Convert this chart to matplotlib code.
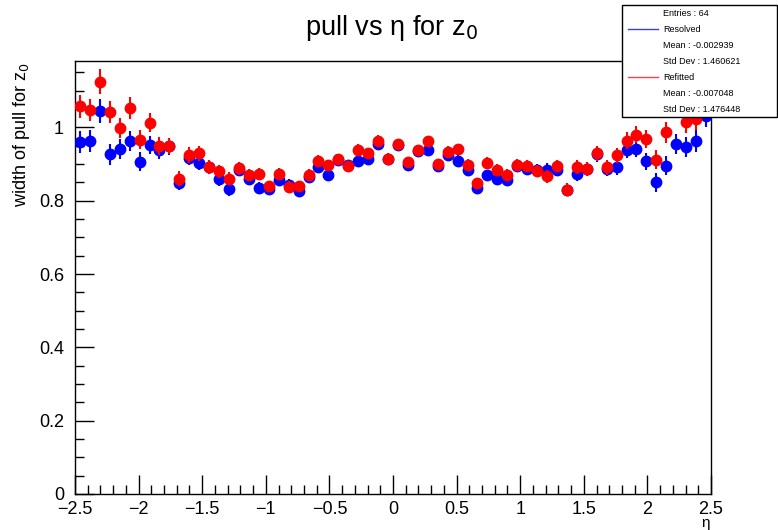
import numpy as np
import matplotlib.pyplot as plt
from matplotlib import font_manager
from matplotlib.lines import Line2D
from matplotlib.patches import Rectangle
from matplotlib.ticker import MultipleLocator, FuncFormatter

plt.rcParams['font.family'] = ['Liberation Sans', 'DejaVu Sans']
installed = {f.name for f in font_manager.fontManager.ttflist}
narrow = 'Liberation Sans Narrow' if 'Liberation Sans Narrow' in installed else 'Liberation Sans'

# 64 eta bins between -2.5 and 2.5
eta_lo, eta_hi, nbins = -2.5, 2.5, 64

resolved = [0.959, 0.964, 1.044, 0.926, 0.942, 0.962, 0.906, 0.951, 0.937, 0.948,
            0.849, 0.917, 0.903, 0.892, 0.859, 0.832, 0.885, 0.860, 0.835, 0.833,
            0.857, 0.844, 0.826, 0.864, 0.892, 0.871, 0.910, 0.897, 0.907, 0.914,
            0.954, 0.914, 0.952, 0.897, 0.935, 0.937, 0.894, 0.924, 0.909, 0.883,
            0.835, 0.869, 0.859, 0.857, 0.894, 0.887, 0.885, 0.885, 0.883, 0.830,
            0.873, 0.886, 0.926, 0.886, 0.891, 0.939, 0.941, 0.907, 0.850, 0.895,
            0.955, 0.946, 0.962, 1.030]
refitted = [1.057, 1.047, 1.125, 1.042, 0.998, 1.053, 0.966, 1.012, 0.949, 0.949,
            0.860, 0.925, 0.929, 0.891, 0.880, 0.860, 0.888, 0.870, 0.873, 0.839,
            0.873, 0.838, 0.839, 0.871, 0.909, 0.896, 0.913, 0.894, 0.939, 0.930,
            0.964, 0.914, 0.954, 0.905, 0.937, 0.962, 0.900, 0.933, 0.940, 0.898,
            0.848, 0.903, 0.885, 0.871, 0.897, 0.894, 0.880, 0.866, 0.894, 0.830,
            0.892, 0.886, 0.929, 0.891, 0.924, 0.964, 0.980, 0.968, 0.912, 0.986,
            1.060, 1.015, 1.023, 1.080]
resolved_err = [0.030, 0.030, 0.032, 0.028, 0.027, 0.027, 0.026, 0.025, 0.024, 0.023,
                0.021, 0.021, 0.020, 0.019, 0.018, 0.018, 0.017, 0.017, 0.016, 0.016,
                0.016, 0.016, 0.015, 0.015, 0.015, 0.015, 0.015, 0.015, 0.015, 0.015,
                0.015, 0.015, 0.015, 0.015, 0.015, 0.015, 0.015, 0.015, 0.015, 0.015,
                0.015, 0.015, 0.016, 0.016, 0.016, 0.016, 0.016, 0.017, 0.017, 0.018,
                0.018, 0.019, 0.020, 0.020, 0.021, 0.022, 0.023, 0.024, 0.025, 0.026,
                0.027, 0.028, 0.030, 0.030]
refitted_err = [0.031, 0.031, 0.035, 0.030, 0.028, 0.029, 0.026, 0.026, 0.024, 0.023,
                0.021, 0.021, 0.020, 0.019, 0.018, 0.018, 0.017, 0.017, 0.016, 0.016,
                0.016, 0.016, 0.015, 0.015, 0.015, 0.015, 0.015, 0.015, 0.015, 0.015,
                0.015, 0.015, 0.015, 0.015, 0.015, 0.015, 0.015, 0.015, 0.015, 0.015,
                0.015, 0.015, 0.016, 0.016, 0.016, 0.016, 0.016, 0.017, 0.017, 0.018,
                0.018, 0.019, 0.020, 0.020, 0.021, 0.022, 0.024, 0.025, 0.026, 0.028,
                0.029, 0.030, 0.031, 0.031]

stats = ['Entries : 64',
         'Resolved', 'Mean : -0.002939', 'Std Dev : 1.460621',
         'Refitted', 'Mean : -0.007048', 'Std Dev : 1.476448']

edges = np.linspace(eta_lo, eta_hi, nbins + 1)
centers = 0.5 * (edges[:-1] + edges[1:])

W, H = 778, 530
fig = plt.figure(figsize=(W / 100, H / 100), dpi=100)
ax = fig.add_axes([75 / W, 36 / H, 636 / W, 433 / H])

ax.errorbar(centers, resolved, yerr=resolved_err, fmt='o', color='#0000ff',
            ms=7.5, elinewidth=1.5, capsize=0, zorder=3)
ax.errorbar(centers, refitted, yerr=refitted_err, fmt='o', color='#ff0000',
            ms=7.5, elinewidth=1.5, capsize=0, zorder=4)

ax.set_xlim(eta_lo, eta_hi)
ax.set_ylim(0, 1.181)

ax.xaxis.set_major_locator(MultipleLocator(0.5))
ax.xaxis.set_minor_locator(MultipleLocator(0.1))
ax.yaxis.set_major_locator(MultipleLocator(0.2))
ax.yaxis.set_minor_locator(MultipleLocator(0.05))
ax.yaxis.set_major_formatter(FuncFormatter(lambda v, p: '%g' % round(v, 2)))
ax.xaxis.set_major_formatter(FuncFormatter(lambda v, p: ('%g' % round(v, 2)).replace('-', '\u2212')))

ax.tick_params(which='both', direction='in', top=False, right=False, width=1)
ax.tick_params(which='major', length=13.5)
ax.tick_params(which='minor', length=6.5)
ax.tick_params(axis='x', which='major', pad=5)
ax.tick_params(axis='y', which='major', pad=8)
for lab in ax.get_xticklabels() + ax.get_yticklabels():
    lab.set_fontfamily(narrow)
    lab.set_fontsize(13)
for s in ax.spines.values():
    s.set_linewidth(1)

fig.text(706 / W, 0, '\u03b7', ha='center', va='bottom', fontsize=11)
fig.text(22 / W, 1 - 63 / H, 'width of pull for z$_0$', rotation=90,
         ha='center', va='top', fontsize=13)

fig.text(391 / W, 1 - 35 / H, 'pull vs \u03b7 for z$_0$', ha='center', va='baseline', fontsize=19.5)

# statistics box drawn over the top-right corner
bx0, by0, bx1, by1 = 622 / W, 1 - 117 / H, 777 / W, 1 - 5 / H
fig.patches.append(Rectangle((bx0, by0), bx1 - bx0, by1 - by0, transform=fig.transFigure,
                             facecolor='white', edgecolor='black', lw=1, zorder=5))
row_h = (by1 - by0) / len(stats)
for i, line in enumerate(stats):
    yc = by1 - (i + 0.5) * row_h
    fig.text(bx0 + 41 / W, yc, line, ha='left', va='center', fontsize=6.5, zorder=6)
    if line in ('Resolved', 'Refitted'):
        c = '#4040d0' if line == 'Resolved' else '#ff4040'
        fig.lines.append(Line2D([bx0 + 6 / W, bx0 + 36 / W], [yc, yc], transform=fig.transFigure,
                                color=c, lw=1, zorder=6))

fig.savefig('out.png', dpi=100)
